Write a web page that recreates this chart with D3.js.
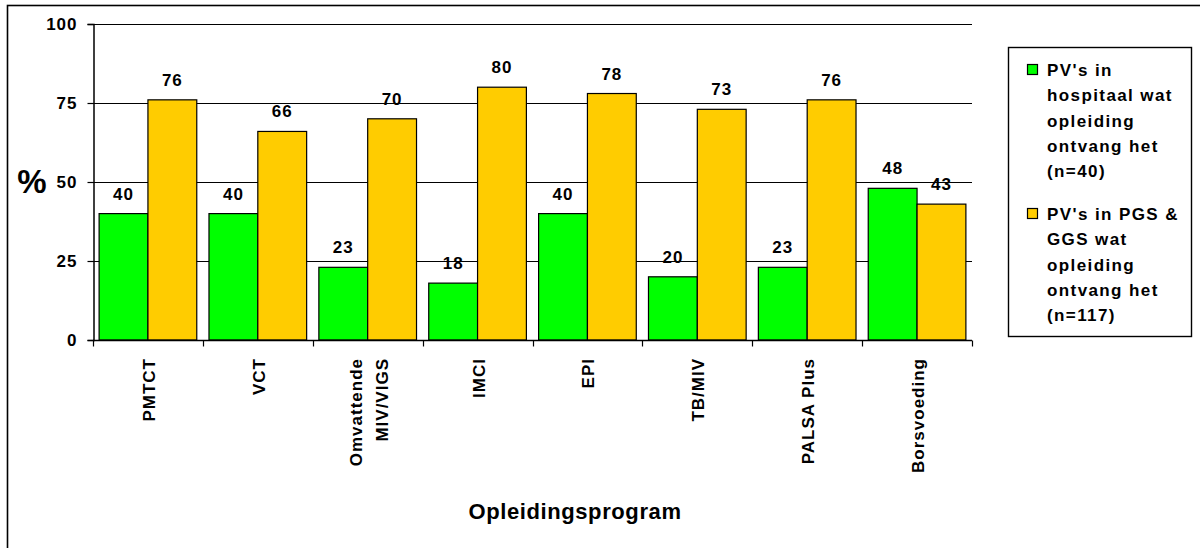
<!DOCTYPE html>
<html>
<head>
<meta charset="utf-8">
<script src="https://cdn.jsdelivr.net/npm/d3@7"></script>
<style>
  html, body { margin: 0; padding: 0; background: #fff; overflow: hidden; }
  svg { display: block; font-family: Arial, "Liberation Sans", sans-serif; }
</style>
</head>
<body>
<svg id="chart" width="1200" height="548"></svg>
<script>
// Training programmes and the share of nurses trained in each
const categories = [["PMTCT"], ["VCT"], ["Omvattende", "MIV/VIGS"], ["IMCI"], ["EPI"], ["TB/MIV"], ["PALSA Plus"], ["Borsvoeding"]];
const hospitalValues = [40, 40, 23, 18, 40, 20, 23, 48];
const clinicValues = [76, 66, 70, 80, 78, 73, 76, 43];
const seriesNames = [
  ["PV's in", "hospitaal wat", "opleiding", "ontvang het", "(n=40)"],
  ["PV's in PGS &", "GGS wat", "opleiding", "ontvang het", "(n=117)"]
];
const seriesColors = ["#00FF00", "#FFCC00"];
const yTicks = [0, 25, 50, 75, 100];

const svg = d3.select("#chart");

// outer chart border (runs past the right and bottom edges)
svg.append("rect")
  .attr("x", 7.5).attr("y", 5.5).attr("width", 1205).attr("height", 560)
  .attr("fill", "#fff").attr("stroke", "#000").attr("stroke-width", 1.6);

const plot = { left: 93, right: 972, top: 24, bottom: 340 };

const x = d3.scaleBand()
  .domain(d3.range(categories.length))
  .range([plot.left, plot.right])
  .paddingInner(0).paddingOuter(0);

const y = d3.scaleLinear().domain([0, 100]).range([plot.bottom, plot.top]);

const inner = d3.scaleBand().domain([0, 1]).range([0, x.bandwidth()]).paddingOuter(0.125).paddingInner(0);

// horizontal gridlines
svg.append("g")
  .selectAll("line")
  .data(yTicks.filter(d => d > 0))
  .join("line")
  .attr("x1", plot.left).attr("x2", plot.right)
  .attr("y1", d => Math.round(y(d)) + 0.5).attr("y2", d => Math.round(y(d)) + 0.5)
  .attr("stroke", "#000").attr("stroke-width", 1.2);

// bars with value labels
const series = [hospitalValues, clinicValues];
series.forEach((vals, s) => {
  const g = svg.append("g");
  g.selectAll("rect")
    .data(vals)
    .join("rect")
    .attr("x", (d, i) => x(i) + inner(s))
    .attr("y", d => y(d))
    .attr("width", inner.bandwidth())
    .attr("height", d => y(0) - y(d))
    .attr("fill", seriesColors[s])
    .attr("stroke", "#000").attr("stroke-width", 1.2);
  g.selectAll("text")
    .data(vals)
    .join("text")
    .attr("x", (d, i) => x(i) + inner(s) + inner.bandwidth() / 2)
    .attr("y", d => y(d) - 14)
    .attr("text-anchor", "middle")
    .attr("font-size", 17).attr("font-weight", "bold")
    .attr("letter-spacing", 1)
    .text(d => d);
});

// y axis
const yAxis = svg.append("g")
  .attr("transform", `translate(${plot.left + 0.5},0)`)
  .call(d3.axisLeft(y).tickValues(yTicks).tickSize(6).tickPadding(10));
yAxis.select(".domain").attr("stroke", "#000").attr("stroke-width", 1.5);
yAxis.selectAll(".tick line").attr("stroke", "#000").attr("stroke-width", 1.2);
yAxis.selectAll(".tick text")
  .attr("font-size", 17).attr("font-weight", "bold")
  .attr("letter-spacing", 1)
  .attr("font-family", "Arial, 'Liberation Sans', sans-serif").attr("fill", "#000");

// x axis with ticks at band boundaries
const xAxisG = svg.append("g").attr("transform", `translate(0,${plot.bottom + 0.5})`);
xAxisG.append("line")
  .attr("x1", plot.left).attr("x2", plot.right)
  .attr("stroke", "#000").attr("stroke-width", 1.5);
xAxisG.selectAll("line.tk")
  .data(d3.range(categories.length + 1))
  .join("line")
  .attr("class", "tk")
  .attr("x1", i => Math.round(plot.left + i * x.step()) + 0.5)
  .attr("x2", i => Math.round(plot.left + i * x.step()) + 0.5)
  .attr("y1", 0).attr("y2", 6)
  .attr("stroke", "#000").attr("stroke-width", 1.2);

// rotated category labels
categories.forEach((lines, i) => {
  const cx = x(i) + x.bandwidth() / 2;
  const n = lines.length;
  lines.forEach((line, j) => {
    const lx = cx + (j - (n - 1) / 2) * 26 + 7;
    svg.append("text")
      .attr("transform", `translate(${lx},358) rotate(-90)`)
      .attr("text-anchor", "end")
      .attr("font-size", 17).attr("font-weight", "bold")
      .attr("letter-spacing", 1)
      .text(line);
  });
});

// axis titles
svg.append("text")
  .attr("x", 32).attr("y", 193)
  .attr("text-anchor", "middle")
  .attr("font-size", 33).attr("font-weight", "bold")
  .text("%");

svg.append("text")
  .attr("x", 575).attr("y", 519)
  .attr("text-anchor", "middle")
  .attr("font-size", 22).attr("font-weight", "bold")
  .attr("letter-spacing", 0.6)
  .text("Opleidingsprogram");

// legend
const legend = svg.append("g");
legend.append("rect")
  .attr("x", 1008.5).attr("y", 47.5).attr("width", 183).attr("height", 289)
  .attr("fill", "#fff").attr("stroke", "#000").attr("stroke-width", 1.4);
const entryTop = [76, 220];
seriesNames.forEach((lines, s) => {
  legend.append("rect")
    .attr("x", 1027.5).attr("y", entryTop[s] - 11.5).attr("width", 10).attr("height", 10)
    .attr("fill", seriesColors[s]).attr("stroke", "#000").attr("stroke-width", 1.2);
  lines.forEach((line, j) => {
    legend.append("text")
      .attr("x", 1047).attr("y", entryTop[s] + j * 25.3)
      .attr("font-size", 17).attr("font-weight", "bold")
      .attr("letter-spacing", 1.4)
      .text(line);
  });
});
</script>
</body>
</html>
